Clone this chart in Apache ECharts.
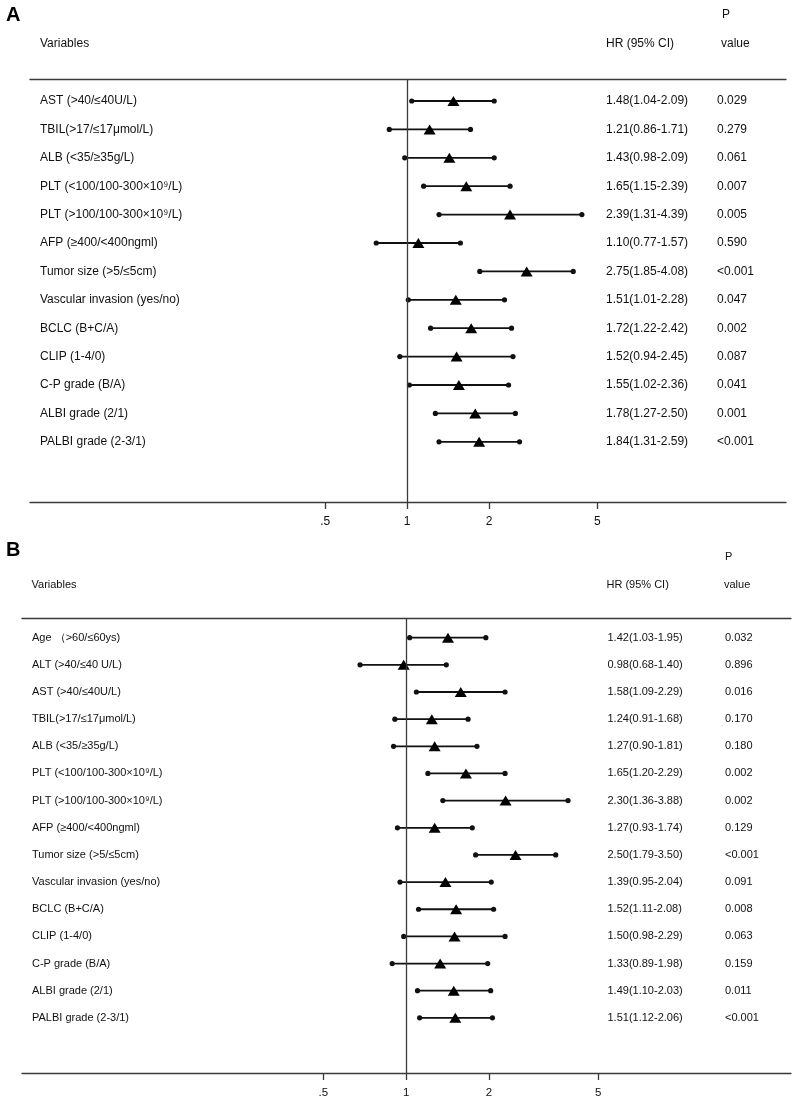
<!DOCTYPE html>
<html>
<head>
<meta charset="utf-8">
<script src="https://cdn.jsdelivr.net/npm/echarts@6/dist/echarts.min.js"></script>
<style>
  html, body { margin: 0; padding: 0; background: #fff; }
  #chart { width: 795px; height: 1102px; }
</style>
</head>
<body>
<div id="chart"></div>
<script>
// panel A
const labelsA = ['AST (>40/≤40U/L)', 'TBIL(>17/≤17μmol/L)', 'ALB (<35/≥35g/L)', 'PLT (<100/100-300×10⁹/L)',
  'PLT (>100/100-300×10⁹/L)', 'AFP (≥400/<400ngml)', 'Tumor size (>5/≤5cm)', 'Vascular invasion (yes/no)',
  'BCLC (B+C/A)', 'CLIP (1-4/0)', 'C-P grade (B/A)', 'ALBI grade (2/1)', 'PALBI grade (2-3/1)']
const hrA = [1.48, 1.21, 1.43, 1.65, 2.39, 1.10, 2.75, 1.51, 1.72, 1.52, 1.55, 1.78, 1.84]
const loA = [1.04, 0.86, 0.98, 1.15, 1.31, 0.77, 1.85, 1.01, 1.22, 0.94, 1.02, 1.27, 1.31]
const hiA = [2.09, 1.71, 2.09, 2.39, 4.39, 1.57, 4.08, 2.28, 2.42, 2.45, 2.36, 2.50, 2.59]
const pA = ['0.029', '0.279', '0.061', '0.007', '0.005', '0.590', '<0.001', '0.047', '0.002', '0.087', '0.041', '0.001', '<0.001']

// panel B
const labelsB = ['Age （>60/≤60ys)', 'ALT (>40/≤40 U/L)', 'AST (>40/≤40U/L)', 'TBIL(>17/≤17μmol/L)', 'ALB (<35/≥35g/L)',
  'PLT (<100/100-300×10⁹/L)', 'PLT (>100/100-300×10⁹/L)', 'AFP (≥400/<400ngml)', 'Tumor size (>5/≤5cm)',
  'Vascular invasion (yes/no)', 'BCLC (B+C/A)', 'CLIP (1-4/0)', 'C-P grade (B/A)', 'ALBI grade (2/1)', 'PALBI grade (2-3/1)']
const hrB = [1.42, 0.98, 1.58, 1.24, 1.27, 1.65, 2.30, 1.27, 2.50, 1.39, 1.52, 1.50, 1.33, 1.49, 1.51]
const loB = [1.03, 0.68, 1.09, 0.91, 0.90, 1.20, 1.36, 0.93, 1.79, 0.95, 1.11, 0.98, 0.89, 1.10, 1.12]
const hiB = [1.95, 1.40, 2.29, 1.68, 1.81, 2.29, 3.88, 1.74, 3.50, 2.04, 2.08, 2.29, 1.98, 2.03, 2.06]
const pB = ['0.032', '0.896', '0.016', '0.170', '0.180', '0.002', '0.002', '0.129', '<0.001', '0.091', '0.008', '0.063', '0.159', '0.011', '<0.001']

const xTicks = [0.5, 1, 2, 5]
const FONT = "'Liberation Sans', Arial, sans-serif"
const INK = '#111'
const LINE = '#3a3a3a'

const hrText = (hr, lo, hi) => hr.map((v, i) => v.toFixed(2) + '(' + lo[i].toFixed(2) + '-' + hi[i].toFixed(2) + ')')

function xAxes(grid, min, max, fs) {
  return [
    {
      type: 'log', logBase: 10, gridIndex: grid, min: min, max: max, position: 'bottom',
      axisLine: {show: true, onZero: false, lineStyle: {color: LINE, width: 1.3}},
      axisTick: {show: true, length: 7, customValues: xTicks, lineStyle: {color: LINE, width: 1.3}},
      axisLabel: {show: true, customValues: xTicks, margin: 14, fontSize: fs, fontFamily: FONT, color: INK,
        formatter: v => v == 0.5 ? '.5' : String(v)},
      splitLine: {show: false}, minorTick: {show: false}
    },
    {
      type: 'log', logBase: 10, gridIndex: grid, min: min, max: max, position: 'top',
      axisLine: {show: true, onZero: false, lineStyle: {color: LINE, width: 1.3}},
      axisTick: {show: false}, axisLabel: {show: false}, splitLine: {show: false}
    }
  ]
}

function yAxis(grid, min, max, texts, offset, margin, fs) {
  return {
    type: 'value', gridIndex: grid, inverse: true, min: min, max: max, position: 'left', offset: offset,
    axisLine: {show: false}, axisTick: {show: false}, splitLine: {show: false},
    axisLabel: {show: true, inside: true, margin: margin, fontSize: fs, fontFamily: FONT, color: INK,
      customValues: texts.map((t, i) => i), formatter: v => texts[Math.round(v)]}
  }
}

function ciSeries(xi, yi, lo, hi) {
  return {
    type: 'custom', xAxisIndex: xi, yAxisIndex: yi, z: 3,
    data: lo.map((v, i) => [v, hi[i], i]),
    renderItem: (params, api) => {
      const a = api.coord([api.value(0), api.value(2)])
      const b = api.coord([api.value(1), api.value(2)])
      return {
        type: 'group',
        children: [
          {type: 'line', shape: {x1: a[0], y1: a[1], x2: b[0], y2: b[1]}, style: {stroke: '#111', lineWidth: 1.8}},
          {type: 'circle', shape: {cx: a[0], cy: a[1], r: 2.6}, style: {fill: '#111'}},
          {type: 'circle', shape: {cx: b[0], cy: b[1], r: 2.6}, style: {fill: '#111'}}
        ]
      }
    }
  }
}

function hrSeries(xi, yi, hr) {
  return {
    type: 'scatter', xAxisIndex: xi, yAxisIndex: yi, z: 4,
    symbol: 'triangle', symbolSize: [12, 10], itemStyle: {color: '#000', opacity: 1},
    data: hr.map((v, i) => [v, i]),
    markLine: {
      silent: true, symbol: 'none', label: {show: false},
      lineStyle: {color: LINE, width: 1.3, type: 'solid'},
      data: [{xAxis: 1}]
    }
  }
}

function txt(text, x, y, fs, extra) {
  return {type: 'text', style: Object.assign({text: text, x: x, y: y, fontSize: fs, fontFamily: FONT,
    fill: INK, verticalAlign: 'middle', align: 'left'}, extra || {})}
}

const option = {
  backgroundColor: '#fff',
  animation: false,
  grid: [
    {left: 30, right: 9, top: 79, height: 423},
    {left: 22, right: 4, top: 618, height: 455}
  ],
  xAxis: [].concat(xAxes(0, 0.0411, 24.7, 12), xAxes(1, 0.0401, 25.1, 11.5)),
  yAxis: [
    yAxis(0, -0.775, 14.12, labelsA, 0, 10, 12),
    yAxis(0, -0.775, 14.12, hrText(hrA, loA, hiA), -576, 0, 12),
    yAxis(0, -0.775, 14.12, pA, -687, 0, 12),
    yAxis(1, -0.725, 16.03, labelsB, 0, 10, 11),
    yAxis(1, -0.725, 16.03, hrText(hrB, loB, hiB), -585.5, 0, 11),
    yAxis(1, -0.725, 16.03, pB, -703, 0, 11)
  ],
  series: [
    ciSeries(0, 0, loA, hiA),
    hrSeries(0, 0, hrA),
    ciSeries(2, 3, loB, hiB),
    hrSeries(2, 3, hrB)
  ],
  graphic: [
    txt('A', 6, 15, 20, {fontWeight: 'bold', fill: '#000'}),
    txt('Variables', 40, 44, 12),
    txt('HR (95% CI)', 606, 44, 12),
    txt('P', 722, 15, 12),
    txt('value', 721, 44, 12),
    txt('B', 6, 550, 20, {fontWeight: 'bold', fill: '#000'}),
    txt('Variables', 31.5, 585, 11),
    txt('HR (95% CI)', 606.5, 585, 11),
    txt('P', 725, 557, 11),
    txt('value', 724, 585, 11)
  ]
}

const chart = echarts.init(document.getElementById('chart'))
chart.setOption(option)
</script>
</body>
</html>
